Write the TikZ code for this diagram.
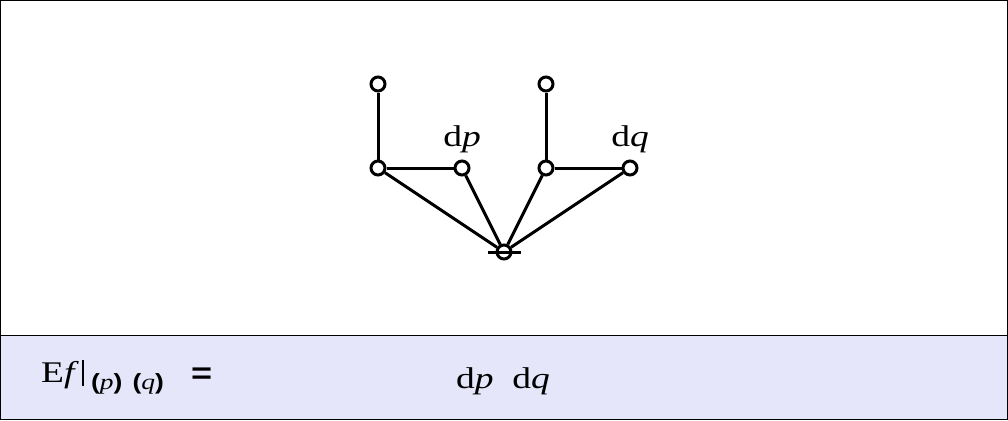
\documentclass[tikz,border=0pt]{standalone}
\usepackage{fontspec}
\setmainfont{Liberation Serif}[FakeStretch=1.25]
\setsansfont{Liberation Sans}[FakeStretch=1.2]
\begin{document}
\begin{tikzpicture}[x=1pt,y=-1pt,
  vert/.style={circle,draw,line width=3pt,minimum size=14pt,inner sep=0pt,fill=white},
  edge/.style={line width=3pt},
  lbl/.style={font=\fontsize{30}{34}\selectfont,inner sep=0pt,anchor=base}]
\useasboundingbox (0,0) rectangle (1008,420);
\fill[fill={rgb,255:red,230;green,230;blue,250}] (0,335) rectangle (1008,420);
\draw[line width=1pt] (0.5,0.5) rectangle (1007.5,419.5);
\draw[line width=1pt] (0,335) -- (1008,335);
% vertices
\node[vert] (a1) at (378,84) {};
\node[vert] (a2) at (378,168) {};
\node[vert] (b)  at (462,168) {};
\node[vert] (c1) at (546,84) {};
\node[vert] (c2) at (546,168) {};
\node[vert] (d)  at (630,168) {};
\node[vert] (r)  at (504,252) {};
\coordinate (rl) at (488,252);
\coordinate (rr) at (521,252);
\draw[edge] (a1) -- (a2);
\draw[edge] (a2) -- (b);
\draw[edge] (c1) -- (c2);
\draw[edge] (c2) -- (d);
\draw[edge] (a2) -- (r);
\draw[edge] (b) -- (r);
\draw[edge] (c2) -- (r);
\draw[edge] (d) -- (r);
\draw[edge] (rl) -- (rr);
% labels
\node[lbl] (lp) at (462,146) {d\textit{p}};
\node[lbl] (lq) at (630,146) {d\textit{q}};
% bottom formula
\node[lbl,anchor=base west] (ef) at (41,382) {E\textit{f}\kern3pt\rule[-4pt]{1.8pt}{26pt}};
\node[anchor=base west,inner sep=0pt,font=\sffamily\bfseries\fontsize{22}{26}\selectfont] (sub) at (91,389) {(\textit{\rmfamily\mdseries p})\hspace{10pt}(\textit{\rmfamily\mdseries q})};
\node[anchor=base west,inner sep=0pt,font=\sffamily\bfseries\fontsize{30}{34}\selectfont] (eq) at (191,383) {=};
\node[lbl,anchor=base west] (dpdq) at (456,388) {d\textit{p}\ \ d\textit{q}};
\end{tikzpicture}
\end{document}
